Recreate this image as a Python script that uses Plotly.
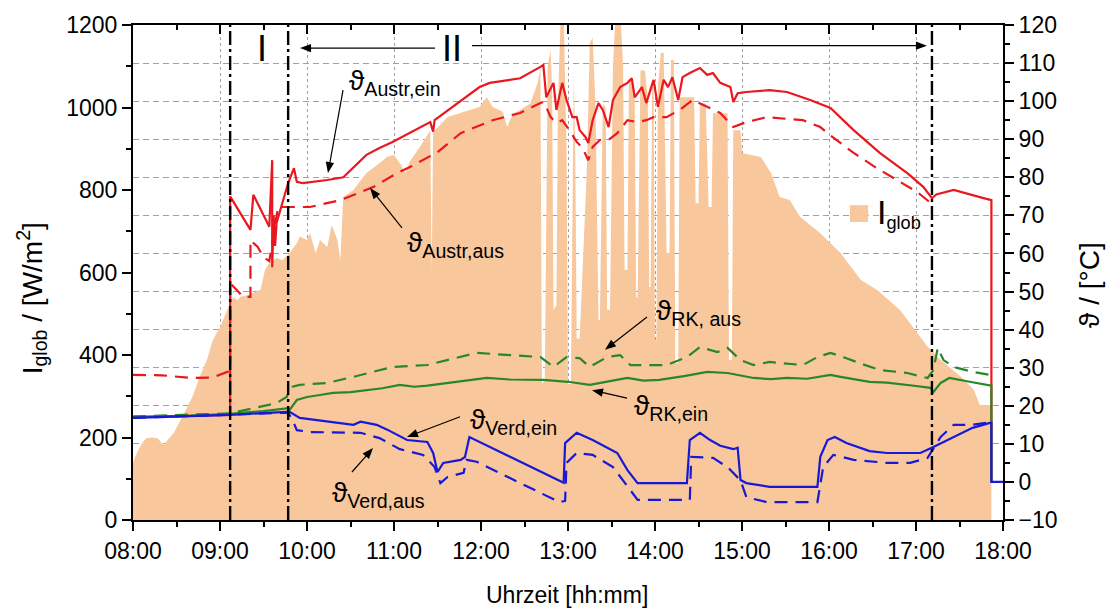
import plotly.graph_objects as go

FONT = "Liberation Sans, Arial, DejaVu Sans, sans-serif"

# ---------------------------------------------------------------- data ----
# global irradiance I_glob [W/m²]
irr_time = [
    "08:00", "08:03", "08:06", "08:09", "08:12", "08:17", "08:21", "08:24", "08:28", "08:34",
    "08:41", "08:46", "08:51", "08:55", "09:00", "09:05", "09:09", "09:12", "09:14", "09:19",
    "09:23", "09:28", "09:31", "09:34", "09:39", "09:43", "09:48", "09:53", "09:55", "10:00",
    "10:02", "10:06", "10:09", "10:14", "10:17", "10:21", "10:23", "10:25", "10:32", "10:41",
    "10:50", "10:55", "11:00", "11:04", "11:08", "11:11", "11:18", "11:25", "11:26", "11:27",
    "11:37", "11:48", "11:59", "12:04", "12:08", "12:15", "12:18", "12:22", "12:27", "12:34",
    "12:39", "12:41", "12:42", "12:44", "12:46", "12:48", "12:49", "12:50", "12:52", "12:53",
    "12:55", "12:57", "12:59", "13:00", "13:02", "13:04", "13:05", "13:06", "13:08", "13:10",
    "13:13", "13:15", "13:17", "13:19", "13:21", "13:22", "13:24", "13:26", "13:27", "13:29",
    "13:31", "13:33", "13:36", "13:38", "13:39", "13:41", "13:42", "13:44", "13:46", "13:47",
    "13:48", "13:50", "13:53", "13:55", "13:56", "13:57", "13:58", "13:59", "14:00", "14:01",
    "14:02", "14:04", "14:06", "14:08", "14:10", "14:11", "14:13", "14:14", "14:16", "14:17",
    "14:27", "14:28", "14:30", "14:31", "14:35", "14:37", "14:39", "14:40", "14:50", "14:51",
    "14:53", "14:54", "14:59", "15:00", "15:13", "15:20", "15:26", "15:33", "15:40", "15:54",
    "16:08", "16:22", "16:33", "16:49", "16:58", "17:08", "17:17", "17:31", "17:40", "17:44",
    "17:52", "17:52",
]
irr_value = [
    140, 165, 185, 198, 200, 198, 182, 195, 211, 250,
    299, 347, 388, 436, 467, 509, 540, 533, 541, 545,
    550, 558, 606, 623, 635, 630, 647, 671, 687, 679,
    696, 647, 679, 662, 715, 679, 630, 783, 800, 841,
    865, 880, 885, 865, 841, 870, 905, 945, 600, 940,
    977, 989, 1001, 1025, 1001, 990, 953, 985, 994, 1010,
    1059, 1095, 330, 340, 1100, 1140, 1050, 510, 520, 1000,
    1230, 1230, 900, 330, 330, 1080, 890, 440, 440, 600,
    850, 1156, 1170, 1000, 485, 485, 1010, 1000, 510, 510,
    1100, 1240, 1240, 1100, 606, 606, 1060, 1067, 1018, 540,
    540, 1090, 1090, 1025, 565, 565, 1050, 1050, 436, 436,
    1050, 1132, 1132, 647, 647, 1115, 1115, 380, 380, 1025,
    1025, 768, 768, 1010, 1010, 759, 759, 986, 986, 388,
    388, 945, 945, 890, 880, 841, 783, 776, 735, 695,
    647, 582, 558, 509, 468, 420, 388, 347, 315, 279,
    279, 0,
]

# collector outlet (Austr,ein) and inlet (Austr,aus) temperatures [°C]
austr_ein_time = [
    "08:00", "09:07", "09:07", "09:21", "09:23", "09:34", "09:36", "09:36", "09:37", "09:38",
    "09:39", "09:43", "09:47", "09:51", "09:53", "09:57", "10:05", "10:14", "10:25", "10:41",
    "10:50", "10:59", "11:25", "11:27", "11:28", "11:59", "12:06", "12:27", "12:41", "12:43",
    "12:45", "12:50", "12:52", "12:56", "12:59", "13:03", "13:06", "13:08", "13:12", "13:14",
    "13:17", "13:21", "13:24", "13:28", "13:31", "13:36", "13:41", "13:44", "13:46", "13:51",
    "13:54", "13:59", "14:02", "14:06", "14:09", "14:12", "14:16", "14:19", "14:24", "14:31",
    "14:36", "14:40", "14:45", "14:52", "14:54", "14:57", "15:03", "15:19", "15:31", "15:47",
    "16:01", "16:17", "16:35", "16:54", "17:05", "17:11", "17:14", "17:26", "17:44", "17:51",
    "17:52", "17:52",
]
austr_ein = [
    17.0, 17.6, 75.0, 66.2, 75.4, 67.0, 84.5, 56.4, 70.0, 62.0,
    68.0, 73.3, 78.5, 82.4, 78.8, 78.5, 78.8, 79.3, 80.0, 85.9,
    87.7, 89.3, 94.5, 92.0, 95.0, 103.7, 104.8, 106.0, 109.0, 109.5,
    101.0, 104.8, 97.7, 104.8, 100.3, 95.8, 95.8, 92.4, 90.6, 89.0,
    95.0, 99.5, 97.7, 93.2, 100.3, 103.7, 104.8, 106.0, 101.0, 103.7,
    99.5, 105.6, 98.5, 105.6, 103.7, 106.3, 100.3, 106.3, 107.4, 108.7,
    106.9, 107.4, 104.8, 103.7, 99.8, 102.1, 102.4, 102.9, 102.4, 100.3,
    98.2, 92.4, 86.4, 81.1, 77.5, 74.5, 75.5, 76.7, 74.8, 74.0,
    74.0, 0.0,
]
austr_aus_time = [
    "08:00", "08:20", "08:40", "08:55", "09:05", "09:07", "09:07", "09:16", "09:21", "09:21",
    "09:26", "09:30", "09:34", "09:40", "09:48", "10:02", "10:23", "10:46", "11:02", "11:11",
    "11:30", "11:46", "12:08", "12:27", "12:41", "12:43", "12:45", "12:48", "12:52", "12:56",
    "13:01", "13:06", "13:10", "13:14", "13:17", "13:22", "13:28", "13:34", "13:41", "13:48",
    "13:54", "13:59", "14:08", "14:17", "14:26", "14:36", "14:45", "14:54", "15:03", "15:17",
    "15:42", "15:54", "16:01", "16:17", "16:33", "16:49", "17:01", "17:10", "17:12",
]
austr_aus = [
    28.1, 28.0, 27.3, 27.4, 28.9, 29.0, 52.2, 48.6, 48.6, 63.5,
    61.7, 59.0, 58.0, 72.2, 72.2, 72.2, 74.0, 77.5, 81.1, 82.7,
    86.6, 91.6, 95.0, 96.9, 99.5, 99.8, 98.5, 95.8, 94.3, 95.0,
    92.4, 89.3, 87.7, 84.5, 88.0, 89.8, 89.8, 91.6, 95.0, 94.5,
    95.0, 95.8, 95.8, 97.7, 100.3, 98.5, 96.9, 93.2, 94.5, 95.8,
    95.0, 93.2, 91.0, 86.4, 82.4, 78.8, 76.1, 73.3, 72.7,
]

# recooler inlet (RK,ein) and outlet (RK,aus) temperatures [°C]
rk_ein_time = [
    "08:00", "08:40", "09:07", "09:30", "09:47", "09:48", "09:53", "10:00", "10:10", "10:18",
    "10:30", "10:41", "10:52", "11:04", "11:14", "11:23", "11:40", "12:04", "12:20", "12:43",
    "13:00", "13:15", "13:28", "13:41", "13:52", "14:03", "14:20", "14:36", "14:50", "15:08",
    "15:20", "15:31", "15:45", "16:01", "16:08", "16:18", "16:28", "16:40", "16:51", "17:00",
    "17:10", "17:12", "17:17", "17:23", "17:37", "17:51", "17:52", "17:52",
]
rk_ein = [
    17.0, 17.4, 17.9, 18.6, 19.4, 18.9, 21.5, 22.3, 22.9, 23.4,
    23.6, 24.2, 24.6, 25.5, 25.0, 25.3, 26.2, 27.3, 26.9, 26.8,
    26.3, 25.5, 26.4, 27.3, 26.6, 26.8, 27.8, 28.9, 28.6, 27.3,
    27.0, 27.3, 27.1, 28.1, 27.6, 27.0, 26.3, 26.1, 25.5, 25.2,
    24.7, 23.6, 26.0, 27.3, 26.3, 25.5, 25.3, 0.0,
]
rk_aus_time = [
    "08:00", "09:07", "09:39", "09:46", "09:48", "09:50", "09:55", "10:14", "10:32", "10:50",
    "10:59", "11:23", "11:57", "12:20", "12:41", "12:50", "12:59", "13:08", "13:15", "13:27",
    "13:36", "13:43", "13:57", "14:08", "14:22", "14:31", "14:43", "14:50", "14:59", "15:08",
    "15:19", "15:42", "15:52", "16:01", "16:12", "16:21", "16:35", "16:54", "17:08", "17:12",
    "17:15", "17:19", "17:26", "17:39", "17:51",
]
rk_aus = [
    17.2, 18.0, 20.7, 22.3, 24.2, 25.0, 25.5, 26.0, 27.6, 29.4,
    30.2, 30.7, 33.9, 33.3, 32.8, 30.2, 32.8, 32.5, 30.2, 32.8,
    33.3, 30.7, 30.7, 30.7, 32.8, 35.4, 34.1, 35.2, 32.0, 30.7,
    31.5, 30.7, 32.8, 33.9, 32.5, 31.2, 29.4, 28.6, 27.3, 29.4,
    35.2, 32.0, 30.2, 28.9, 28.1,
]

# evaporator inlet (Verd,ein) and outlet (Verd,aus) temperatures [°C]
verd_ein_time = [
    "08:00", "09:07", "09:46", "09:48", "09:55", "10:14", "10:32", "10:37", "10:48", "10:55",
    "11:04", "11:09", "11:23", "11:27", "11:30", "11:34", "11:46", "11:49", "11:52", "12:54",
    "12:57", "12:58", "13:06", "13:17", "13:34", "13:41", "13:48", "14:22", "14:24", "14:31",
    "14:38", "14:45", "14:54", "14:57", "14:59", "15:03", "15:19", "15:52", "15:54", "15:59",
    "16:04", "16:12", "16:28", "16:40", "17:03", "17:12", "17:26", "17:39", "17:51", "17:52",
    "17:52", "18:00",
]
verd_ein = [
    16.8, 17.6, 18.4, 18.4, 16.8, 15.8, 15.0, 15.8, 15.0, 13.8,
    12.0, 11.0, 10.5, 7.6, 2.6, 5.0, 5.8, 6.6, 11.8, 0.2,
    -0.2, 10.2, 12.9, 11.0, 7.6, 3.1, -0.3, -0.3, 11.0, 12.9,
    11.0, 9.5, 8.6, 9.0, 0.5, -0.3, -1.3, -1.3, 6.6, 11.0,
    11.8, 10.2, 8.1, 7.6, 7.6, 9.2, 11.8, 14.2, 15.5, 15.5,
    0.0, 0.0,
]
verd_aus_time = [
    "08:00", "09:07", "09:47", "09:50", "09:53", "10:02", "10:23", "10:37", "10:50", "11:04",
    "11:20", "11:28", "11:32", "11:37", "11:48", "11:50", "11:57", "12:54", "12:58", "12:59",
    "13:06", "13:17", "13:31", "13:41", "13:48", "14:24", "14:25", "14:40", "14:50", "14:59",
    "15:03", "15:17", "15:52", "15:56", "16:03", "16:17", "16:40", "16:56", "17:08", "17:17",
    "17:26", "17:39", "17:51",
]
verd_aus = [
    16.8, 17.6, 18.2, 16.3, 13.6, 13.1, 12.9, 12.9, 11.5, 8.6,
    7.1, 3.9, -0.3, 1.3, 2.4, 5.8, 5.3, -5.3, -5.0, 5.0,
    7.6, 7.1, 3.9, -1.3, -4.7, -4.7, 6.6, 6.3, 3.9, 0.4,
    -4.0, -5.3, -5.3, 3.9, 7.1, 5.8, 5.0, 5.0, 6.3, 11.8,
    15.0, 15.0, 15.7,
]

# boundaries of operating phases I and II
phase_bounds = ["09:07", "09:47", "17:11"]

hour_ticks = [8, 9, 10, 11, 12, 13, 14, 15, 16, 17, 18]
hour_labels = ["08:00", "09:00", "10:00", "11:00", "12:00", "13:00",
               "14:00", "15:00", "16:00", "17:00", "18:00"]

# axis ranges
X_RANGE = [8, 18]
I_RANGE = [0, 1200]
T_RANGE = [-10, 120]

# plot area in pixels (matches the layout margins below)
FIG_W, FIG_H = 1107, 610
M_L, M_R, M_T, M_B = 133, 104, 25, 90
PLOT_W = FIG_W - M_L - M_R
PLOT_H = FIG_H - M_T - M_B


def to_hours(stamps):
    """Convert "HH:MM" stamps to decimal hours."""
    out = []
    for s in stamps:
        h, m = s.split(":")
        out.append(int(h) + int(m) / 60.0)
    return out


def y_range(yref):
    return T_RANGE if yref == "y2" else I_RANGE


def to_px(x, y, yref):
    lo, hi = y_range(yref)
    px = (x - X_RANGE[0]) / (X_RANGE[1] - X_RANGE[0]) * PLOT_W
    py = (hi - y) / (hi - lo) * PLOT_H
    return px, py


def from_px(px, py, yref):
    lo, hi = y_range(yref)
    x = X_RANGE[0] + px / PLOT_W * (X_RANGE[1] - X_RANGE[0])
    y = hi - py / PLOT_H * (hi - lo)
    return x, y


def arrow(tail, head, yref, head_len=11.0, half_w=4.2, width=1.2):
    """Thin line with a filled triangular head, as layout shapes."""
    tx, ty = to_px(tail[0], tail[1], yref)
    hx, hy = to_px(head[0], head[1], yref)
    dx, dy = hx - tx, hy - ty
    n = (dx * dx + dy * dy) ** 0.5
    ux, uy = dx / n, dy / n
    bx, by = hx - ux * head_len, hy - uy * head_len
    px_, py_ = -uy, ux
    p1 = from_px(bx + px_ * half_w, by + py_ * half_w, yref)
    p2 = from_px(bx - px_ * half_w, by - py_ * half_w, yref)
    base = from_px(bx + ux * 2, by + uy * 2, yref)
    line = dict(type="line", xref="x", yref=yref, x0=tail[0], y0=tail[1],
                x1=base[0], y1=base[1], line=dict(color="black", width=width), layer="above")
    tri = dict(type="path", xref="x", yref=yref,
               path="M {:.5f},{:.5f} L {:.5f},{:.5f} L {:.5f},{:.5f} Z".format(
                   head[0], head[1], p1[0], p1[1], p2[0], p2[1]),
               fillcolor="black", line=dict(width=0), layer="above")
    return [line, tri]


RED = "rgb(232,24,30)"
GREEN = "rgb(40,135,40)"
BLUE = "rgb(24,24,215)"
FILL = "rgb(249,199,156)"
DASH = "13px,8px"

fig = go.Figure()

# irradiance as filled area on the left axis
fig.add_trace(go.Scatter(
    x=to_hours(irr_time), y=irr_value, mode="lines", fill="tozeroy",
    fillcolor=FILL, line=dict(width=0, color=FILL), hoverinfo="skip",
    showlegend=False, xaxis="x", yaxis="y",
))

# temperatures on the right axis
series = [
    (austr_ein_time, austr_ein, RED, "solid"),
    (austr_aus_time, austr_aus, RED, DASH),
    (rk_aus_time, rk_aus, GREEN, DASH),
    (rk_ein_time, rk_ein, GREEN, "solid"),
    (verd_aus_time, verd_aus, BLUE, DASH),
    (verd_ein_time, verd_ein, BLUE, "solid"),
]
for t, v, col, dash in series:
    fig.add_trace(go.Scatter(
        x=to_hours(t), y=v, mode="lines", line=dict(color=col, width=2.2, dash=dash),
        hoverinfo="skip", showlegend=False, xaxis="x", yaxis="y2",
    ))

# carrier trace for the top (mirrored) time axis
fig.add_trace(go.Scatter(x=X_RANGE, y=[None, None], mode="lines", xaxis="x2", yaxis="y",
                         showlegend=False, hoverinfo="skip"))

# phase boundaries
shapes = []
for b in to_hours(phase_bounds):
    shapes.append(dict(type="line", xref="x", yref="paper", x0=b, x1=b, y0=0, y1=1,
                       line=dict(color="black", width=2.4, dash="14px,4px,3px,4px"),
                       layer="above"))
# legend swatch
shapes.append(dict(type="rect", xref="paper", yref="paper", x0=0.824, x1=0.845,
                   y0=0.602, y1=0.636, fillcolor=FILL, line=dict(width=0)))

# pointer arrows from curve labels to curves (tail -> head, temperature axis)
pointers = [
    ((10.414, 102.9), (10.241, 81.1)),
    ((11.092, 66.7), (10.724, 77.2)),
    ((13.908, 43.3), (13.425, 34.7)),
    ((13.678, 22.0), (13.276, 24.1)),
    ((11.759, 17.1), (11.149, 11.8)),
    ((10.517, 2.6), (10.759, 8.9)),
]
for tail, head in pointers:
    shapes += arrow(tail, head, "y2")

# extent arrows of phase II (irradiance axis)
shapes += arrow((11.471, 1144), (9.92, 1144), "y")
shapes += arrow((11.897, 1150), (17.126, 1150), "y")

axis_common = dict(
    showline=True, linecolor="black", linewidth=2, zeroline=False,
    tickfont=dict(family=FONT, size=23, color="black"),
    tickcolor="black", tickwidth=2, ticklen=9,
)

fig.update_layout(
    width=FIG_W, height=FIG_H, autosize=False,
    margin=dict(l=M_L, r=M_R, t=M_T, b=M_B),
    paper_bgcolor="white", plot_bgcolor="white",
    font=dict(family=FONT, color="black"),
    showlegend=False,
    shapes=shapes,
    xaxis=dict(
        range=X_RANGE, tickmode="array", tickvals=hour_ticks, ticktext=hour_labels,
        ticks="outside", showgrid=True, gridcolor="rgb(160,160,160)", gridwidth=1,
        griddash="3px,3px",
        minor=dict(dtick=0.5, tick0=8, ticks="outside", ticklen=5, tickwidth=2,
                   tickcolor="black", showgrid=False),
        **axis_common,
    ),
    xaxis2=dict(
        range=X_RANGE, overlaying="x", side="top", anchor="y",
        tickmode="array", tickvals=hour_ticks, ticks="inside", showticklabels=False,
        showgrid=False,
        minor=dict(dtick=0.5, tick0=8, ticks="inside", ticklen=5, tickwidth=2,
                   tickcolor="black", showgrid=False),
        **axis_common,
    ),
    yaxis=dict(
        range=I_RANGE, dtick=200, tick0=0, ticks="outside", showgrid=False,
        minor=dict(dtick=100, ticks="outside", ticklen=5, tickwidth=2,
                   tickcolor="black", showgrid=False),
        **axis_common,
    ),
    yaxis2=dict(
        range=T_RANGE, dtick=10, tick0=0, ticks="outside", overlaying="y", side="right",
        anchor="x", showgrid=True, gridcolor="rgb(160,160,160)", gridwidth=1,
        griddash="6px,4px",
        minor=dict(dtick=5, ticks="outside", ticklen=5, tickwidth=2,
                   tickcolor="black", showgrid=False),
        **axis_common,
    ),
)

ann = []
# axis titles
ann.append(dict(text="I<sub>glob</sub> / [W/m<sup>2</sup>]", xref="paper", yref="paper",
                x=-0.116, y=0.448, textangle=-90, showarrow=False,
                font=dict(family=FONT, size=28, color="black"),
                xanchor="center", yanchor="middle"))
ann.append(dict(text="ϑ / [°C]", xref="paper", yref="paper", x=1.100, y=0.475,
                textangle=-90, showarrow=False,
                font=dict(family=FONT, size=28, color="black"),
                xanchor="center", yanchor="middle"))
ann.append(dict(text="Uhrzeit [hh:mm]", xref="paper", yref="paper", x=0.499, y=-0.152,
                showarrow=False, font=dict(family=FONT, size=23, color="black"),
                xanchor="center", yanchor="middle"))

# curve labels on the temperature axis
labels = [
    ("Austr,ein", 10.46, 104.8),
    ("Austr,aus", 11.126, 62.3),
    ("RK, aus", 13.99, 44.6),
    ("RK,ein", 13.736, 19.6),
    ("Verd,ein", 11.851, 15.9),
    ("Verd,aus", 10.264, -3.2),
]
for sub, lx, ly in labels:
    ann.append(dict(text="ϑ<sub>" + sub + "</sub>", xref="x", yref="y2", x=lx, y=ly,
                    showarrow=False, xanchor="left", yanchor="middle",
                    font=dict(family=FONT, size=28, color="black")))

# phase labels
ann.append(dict(text="I", xref="x", yref="y", x=9.483, y=1144, showarrow=False,
                font=dict(family=FONT, size=36, color="black"),
                xanchor="center", yanchor="middle"))
ann.append(dict(text="II", xref="x", yref="y", x=11.667, y=1144, showarrow=False,
                font=dict(family=FONT, size=36, color="black"),
                xanchor="center", yanchor="middle"))

# legend entry for the irradiance area
ann.append(dict(text="<span style='font-size:34px'>I</span><sub>glob</sub>", xref="paper",
                yref="paper", x=0.853, y=0.62, showarrow=False, xanchor="left",
                yanchor="middle", font=dict(family=FONT, size=26, color="black")))

fig.update_layout(annotations=ann)

fig.write_html("out.html")
